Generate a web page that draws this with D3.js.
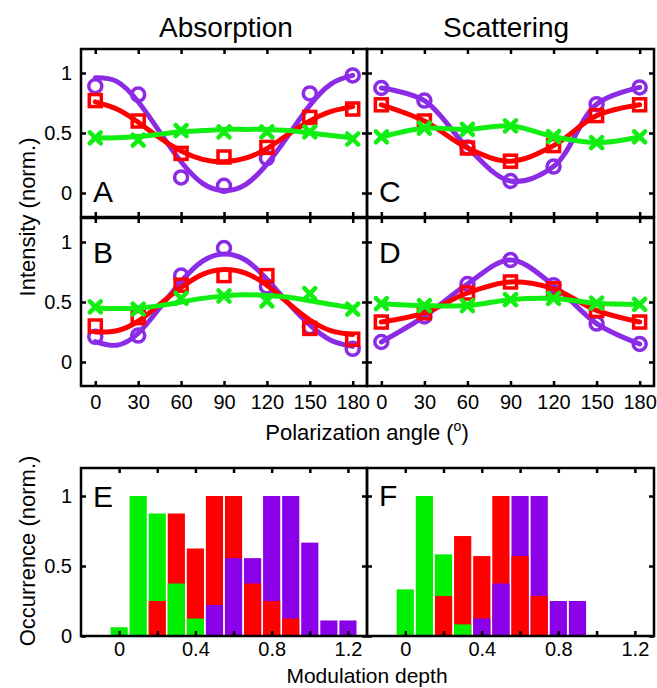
<!DOCTYPE html>
<html>
<head>
<meta charset="utf-8">
<script src="https://cdn.jsdelivr.net/npm/d3@7"></script>
<style>
  body { margin: 0; background: #fff; }
  svg { display: block; font-family: "Liberation Sans", Arial, sans-serif; }
</style>
</head>
<body>
<div id="chart"></div>
<script>
// polarization angles (deg) for measured points and for sampled fit curves
const angles = [0, 30, 60, 90, 120, 150, 180];
const fitAngles = [0, 15, 30, 45, 60, 75, 90, 105, 120, 135, 150, 165, 180];

// panel A (absorption, top)
const aPurple = [0.89, 0.82, 0.13, 0.06, 0.29, 0.83, 0.98];
const aRed = [0.77, 0.60, 0.33, 0.30, 0.38, 0.63, 0.70];
const aGreen = [0.46, 0.44, 0.52, 0.51, 0.51, 0.51, 0.45];
const aPurpleFit = [0.96, 0.93, 0.76, 0.51, 0.26, 0.08, 0.02, 0.07, 0.24, 0.48, 0.73, 0.91, 0.98];
const aRedFit = [0.76, 0.70, 0.59, 0.46, 0.35, 0.28, 0.26, 0.29, 0.37, 0.49, 0.60, 0.68, 0.72];
const aGreenFit = [0.46, 0.46, 0.47, 0.49, 0.51, 0.52, 0.53, 0.53, 0.53, 0.52, 0.50, 0.48, 0.46];

// panel B (absorption, bottom)
const bPurple = [0.21, 0.22, 0.72, 0.95, 0.63, 0.29, 0.11];
const bRed = [0.30, 0.37, 0.64, 0.72, 0.72, 0.28, 0.19];
const bGreen = [0.46, 0.44, 0.53, 0.55, 0.51, 0.57, 0.44];
const bPurpleFit = [0.17, 0.14, 0.24, 0.45, 0.67, 0.84, 0.90, 0.85, 0.69, 0.49, 0.31, 0.18, 0.13];
const bRedFit = [0.25, 0.26, 0.34, 0.48, 0.62, 0.73, 0.77, 0.74, 0.64, 0.49, 0.35, 0.26, 0.23];
const bGreenFit = [0.45, 0.445, 0.45, 0.47, 0.50, 0.53, 0.55, 0.56, 0.555, 0.54, 0.51, 0.48, 0.45];

// panels C, D (scattering)
const cPurple = [0.875, 0.77, 0.38, 0.10, 0.22, 0.74, 0.88];
const cRed = [0.735, 0.60, 0.375, 0.265, 0.395, 0.645, 0.735];
const cGreen = [0.467, 0.54, 0.53, 0.56, 0.47, 0.42, 0.467];
const dPurple = [0.167, 0.38, 0.65, 0.85, 0.64, 0.32, 0.15];
const dRed = [0.333, 0.41, 0.575, 0.667, 0.61, 0.43, 0.333];
const dGreen = [0.486, 0.47, 0.47, 0.52, 0.53, 0.49, 0.48];

// histograms E, F
const depthBins = [0, 0.1, 0.2, 0.3, 0.4, 0.5, 0.6, 0.7, 0.8, 0.9, 1.0, 1.1, 1.2];
const eGreen = [0.0625, 1, 0.875, 0.375, 0.125, 0, 0, 0, 0, 0, 0, 0, 0];
const eRed = [0, 0, 0.25, 0.875, 0.625, 1, 1, 0.375, 0.25, 0.125, 0, 0, 0];
const ePurple = [0, 0, 0, 0, 0, 0.222, 0.556, 0.556, 1, 1, 0.667, 0.111, 0.111];
const fGreen = [0.333, 1, 0.583, 0.083, 0, 0, 0, 0, 0, 0, 0, 0, 0];
const fRed = [0, 0, 0.286, 0.714, 0.571, 1, 0.571, 0.286, 0, 0, 0, 0, 0];
const fPurple = [0, 0, 0, 0, 0.125, 0.375, 1, 1, 0.25, 0.25, 0, 0, 0];

const angleTicks = [0, 30, 60, 90, 120, 150, 180];
const intensityTicks = [0, 0.5, 1];
const depthTicks = [0, 0.2, 0.4, 0.6, 0.8, 1.0, 1.2];
const depthLabels = [0, 0.4, 0.8, 1.2];
const occurrenceTicks = [0, 0.5, 1];

const PURPLE = '#8c2be6', RED = '#ff0000', GREEN = '#11ee11';
const PURPLE_BAR = '#8a00e8', GREEN_BAR = '#00f000';

const W = 657, H = 688;
const svg = d3.select('#chart').append('svg').attr('width', W).attr('height', H);

const TICK = 5;
const fmt = d => (d === 0 ? '0' : d3.format('~g')(d));

function frameAndTicks(g, x, y, xTicks, yTicks, xLabels, showY, yFmt, xPad) {
  const [x0, x1] = x.range();
  const [y0, y1] = y.range(); // y0 bottom, y1 top
  g.append('g').attr('transform', `translate(0,${y0})`)
    .call(d3.axisBottom(x).tickValues(xTicks).tickSizeInner(-TICK).tickSizeOuter(0).tickPadding(xPad)
      .tickFormat(d => (xLabels && xLabels.includes(d) ? fmt(d) : '')))
    .call(a => a.select('.domain').remove());
  g.append('g').attr('transform', `translate(0,${y1})`)
    .call(d3.axisTop(x).tickValues(xTicks).tickSizeInner(-TICK).tickSizeOuter(0).tickFormat(''))
    .call(a => a.select('.domain').remove());
  g.append('g').attr('transform', `translate(${x0},0)`)
    .call(d3.axisLeft(y).tickValues(yTicks).tickSizeInner(-TICK).tickSizeOuter(0).tickPadding(9)
      .tickFormat(showY ? yFmt : ''))
    .call(a => a.select('.domain').remove());
  g.append('g').attr('transform', `translate(${x1},0)`)
    .call(d3.axisRight(y).tickValues(yTicks).tickSizeInner(-TICK).tickSizeOuter(0).tickFormat(''))
    .call(a => a.select('.domain').remove());
  g.selectAll('.tick line').attr('stroke', '#000').attr('stroke-width', 2.5);
  g.selectAll('.tick text').attr('fill', '#000').style('font-size', '20px')
    .style('font-family', '"Liberation Sans", Arial, sans-serif');
  g.append('rect').attr('x', x0).attr('y', y1).attr('width', x1 - x0).attr('height', y0 - y1)
    .attr('fill', 'none').attr('stroke', '#000').attr('stroke-width', 2.5);
}

function letter(g, txt, px, py) {
  g.append('text').attr('x', px).attr('y', py).text(txt)
    .style('font-size', '30px').attr('fill', '#000');
}

function linePanel(opt) {
  const g = svg.append('g');
  const x = d3.scaleLinear().domain([-10, 190]).range([opt.left, opt.right]);
  const y = d3.scaleLinear().domain([-0.2, 1.2]).range([opt.bottom, opt.top]);
  const series = [
    { vals: opt.purple, fit: opt.purpleFit, color: PURPLE, mark: 'circle' },
    { vals: opt.red, fit: opt.redFit, color: RED, mark: 'square' },
    { vals: opt.green, fit: opt.greenFit, color: GREEN, mark: 'cross' }
  ];
  series.forEach(s => {
    let pts, curve;
    if (s.fit) {
      pts = fitAngles.map((a, i) => [a, s.fit[i]]);
      curve = d3.curveNatural;
    } else {
      pts = angles.map((a, i) => [a, s.vals[i]]);
      curve = d3.curveCatmullRom.alpha(0.5);
    }
    const line = d3.line().x(d => x(d[0])).y(d => y(d[1])).curve(curve);
    g.append('path').datum(pts).attr('d', line).attr('fill', 'none')
      .attr('stroke', s.color).attr('stroke-width', 5).attr('stroke-linecap', 'round');
    const mk = g.append('g').selectAll('g').data(angles.map((a, i) => [a, s.vals[i]])).join('g')
      .attr('transform', d => `translate(${x(d[0])},${y(d[1])})`);
    if (s.mark === 'circle') {
      mk.append('circle').attr('r', 6.5).attr('fill', 'none').attr('stroke', s.color).attr('stroke-width', 3.5);
    } else if (s.mark === 'square') {
      mk.append('rect').attr('x', -6).attr('y', -6).attr('width', 12).attr('height', 12)
        .attr('fill', 'none').attr('stroke', s.color).attr('stroke-width', 3.5);
    } else {
      mk.append('path').attr('d', 'M-5.5,-5.5L5.5,5.5M-5.5,5.5L5.5,-5.5')
        .attr('stroke', s.color).attr('stroke-width', 4.5).attr('stroke-linecap', 'round');
    }
  });
  frameAndTicks(g, x, y, angleTicks, intensityTicks, opt.xLabels ? angleTicks : null, opt.showY,
    d => (d === 0 ? '0' : d === 1 ? '1' : '0.5'), 9);
  letter(g, opt.letter, opt.left + 12, opt.letterY);
}

function histPanel(opt) {
  const g = svg.append('g');
  const x = d3.scaleLinear().domain([-0.2, 1.3]).range([opt.left, opt.right]);
  const y = d3.scaleLinear().domain([0, 1.2]).range([opt.bottom, opt.top]);
  const bw = x(0.09) - x(0);
  depthBins.forEach((b, i) => {
    const bars = [
      { v: opt.green[i], c: GREEN_BAR },
      { v: opt.red[i], c: RED },
      { v: opt.purple[i], c: PURPLE_BAR }
    ].filter(d => d.v > 0).sort((p, q) => q.v - p.v);
    g.selectAll(null).data(bars).enter().append('rect')
      .attr('x', x(b) - bw / 2).attr('width', bw)
      .attr('y', d => y(d.v)).attr('height', d => y(0) - y(d.v))
      .attr('fill', d => d.c);
  });
  frameAndTicks(g, x, y, depthTicks, occurrenceTicks, depthLabels, opt.showY,
    d => (d === 0 ? '0' : d === 1 ? '1' : '0.5'), 6);
  letter(g, opt.letter, opt.left + 12, opt.letterY);
}

const L1 = 81, L2 = 367, R2 = 654;

linePanel({ left: L1, right: L2, top: 49, bottom: 217, purple: aPurple, red: aRed, green: aGreen,
  purpleFit: aPurpleFit, redFit: aRedFit, greenFit: aGreenFit, letter: 'A', letterY: 202, showY: true, xLabels: false });
linePanel({ left: L1, right: L2, top: 218, bottom: 386, purple: bPurple, red: bRed, green: bGreen,
  purpleFit: bPurpleFit, redFit: bRedFit, greenFit: bGreenFit, letter: 'B', letterY: 263, showY: true, xLabels: true });
linePanel({ left: L2, right: R2, top: 49, bottom: 217, purple: cPurple, red: cRed, green: cGreen,
  letter: 'C', letterY: 202, showY: false, xLabels: false });
linePanel({ left: L2, right: R2, top: 218, bottom: 386, purple: dPurple, red: dRed, green: dGreen,
  letter: 'D', letterY: 263, showY: false, xLabels: true });

histPanel({ left: L1, right: L2, top: 468, bottom: 636, green: eGreen, red: eRed, purple: ePurple,
  letter: 'E', letterY: 507, showY: true });
histPanel({ left: L2, right: R2, top: 468, bottom: 636, green: fGreen, red: fRed, purple: fPurple,
  letter: 'F', letterY: 506, showY: false });

// titles
svg.append('text').attr('x', 226).attr('y', 37).attr('text-anchor', 'middle')
  .style('font-size', '28px').text('Absorption');
svg.append('text').attr('x', 506).attr('y', 37).attr('text-anchor', 'middle')
  .style('font-size', '28px').text('Scattering');

const xt = svg.append('text').attr('x', 367).attr('y', 440).attr('text-anchor', 'middle')
  .style('font-size', '22px');
xt.append('tspan').text('Polarization angle (');
xt.append('tspan').text('o').attr('dy', -9).style('font-size', '14px');
xt.append('tspan').text(')').attr('dy', 9);

svg.append('text').attr('x', 367).attr('y', 683).attr('text-anchor', 'middle')
  .style('font-size', '21px').text('Modulation depth');

svg.append('text').attr('transform', 'translate(35,217) rotate(-90)').attr('text-anchor', 'middle')
  .style('font-size', '22px').text('Intensity (norm.)');
svg.append('text').attr('transform', 'translate(35,551) rotate(-90)').attr('text-anchor', 'middle')
  .style('font-size', '22px').text('Occurrence (norm.)');
</script>
</body>
</html>
